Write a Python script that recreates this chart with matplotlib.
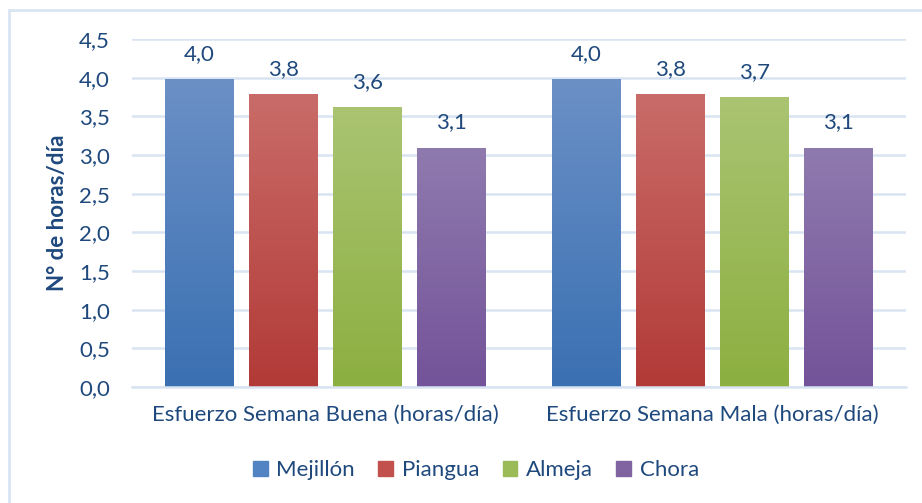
import numpy as np
import matplotlib.pyplot as plt
from matplotlib.colors import LinearSegmentedColormap
from matplotlib.patches import Rectangle

categories = ["Esfuerzo Semana Buena (horas/día)", "Esfuerzo Semana Mala (horas/día)"]
series = ["Mejillón", "Piangua", "Almeja", "Chora"]
mejillon = [3.98, 3.98]
piangua = [3.78, 3.78]
almeja = [3.61, 3.74]
chora = [3.09, 3.09]
values = [mejillon, piangua, almeja, chora]
y_ticks = [0.0, 0.5, 1.0, 1.5, 2.0, 2.5, 3.0, 3.5, 4.0, 4.5]

# (top, bottom) gradient colours per series
grad = [("#6B90C6", "#3A70B2"),
        ("#C96C69", "#B23A37"),
        ("#AAC472", "#8CAF40"),
        ("#8F7AAE", "#735399")]
legend_c = ["#5283C2", "#C2504D", "#9BBB59", "#8064A2"]
txt = "#1F497D"
grid_c = "#D9E4F2"
fs = 16

plt.rcParams['font.family'] = ['Lato', 'DejaVu Sans']

fig = plt.figure(figsize=(9.22, 5.03), dpi=100)
ax = fig.add_axes([132/922, 1-387/503, (906-132)/922, (387-39)/503])

step = 0.217
width = 0.176
x = np.arange(len(categories))
grad_img = np.linspace(0, 1, 256).reshape(-1, 1)
for i, (name, vals) in enumerate(zip(series, values)):
    pos = x + (i - 1.5) * step
    top, bot = grad[i]
    cmap = LinearSegmentedColormap.from_list(name, [bot, top])
    bars = ax.bar(pos, vals, width=width, color=top, label=name, zorder=2)
    for b in bars:
        b.set_facecolor("none")
        x0, y0 = b.get_x(), b.get_y()
        ax.imshow(grad_img, extent=[x0, x0 + b.get_width(), y0, y0 + b.get_height()],
                  origin="lower", cmap=cmap, aspect="auto", zorder=2)
        ax.text(x0 + b.get_width()/2, b.get_height() + 0.2, f"{b.get_height():.1f}".replace(".", ","),
                ha="center", va="bottom", fontsize=fs, color=txt)

ax.set_xlim(-0.5, 1.5)
ax.set_ylim(0, 4.5)
ax.set_yticks(y_ticks)
ax.set_yticklabels([f"{t:.1f}".replace(".", ",") for t in y_ticks])
ax.set_xticks(x)
ax.set_xticklabels(categories)
ax.tick_params(axis="both", length=0, labelsize=fs, colors=txt)
ax.tick_params(axis="y", pad=16)
ax.tick_params(axis="x", pad=13)
ax.grid(axis="y", color=grid_c, linewidth=1.8, zorder=0)
ax.set_axisbelow(True)
for s in ["top", "right", "left"]:
    ax.spines[s].set_visible(False)
ax.spines["bottom"].set_color(grid_c)
ax.spines["bottom"].set_linewidth(1.8)
ax.set_ylabel("N° de horas/día", fontsize=fs, fontweight="bold", color=txt, labelpad=8)

handles = [Rectangle((0, 0), 1, 1, color=c) for c in legend_c]
leg = fig.legend(handles, series, loc="center", bbox_to_anchor=(476/922, 1-470/503), ncol=4,
                 frameon=False, fontsize=fs, handlelength=0.65, handleheight=0.65,
                 handletextpad=0.4, columnspacing=1.05)
for t in leg.get_texts():
    t.set_color(txt)

fig.patches.append(Rectangle((9/922, -0.1), 1.2, 1 - 10/503 + 0.1, transform=fig.transFigure,
                             fill=False, edgecolor=grid_c, linewidth=2))

fig.savefig("out.png", dpi=100)
